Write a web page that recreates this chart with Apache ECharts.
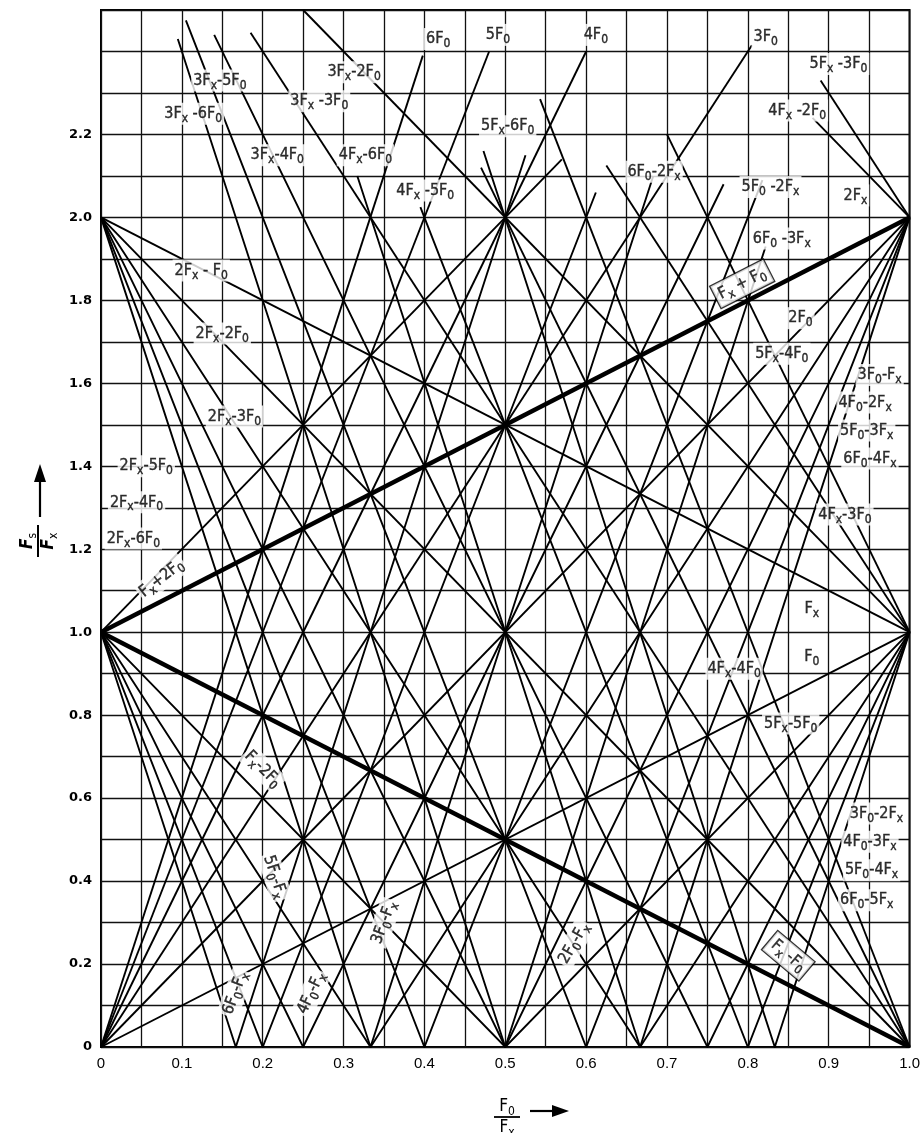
<!DOCTYPE html>
<html>
<head>
<meta charset="utf-8">
<title>Spurious response chart</title>
<script src="https://cdn.jsdelivr.net/npm/echarts@6/dist/echarts.min.js"></script>
<style>
html, body { margin: 0; padding: 0; background: #fff; }
#chart { width: 923px; height: 1133px; }
</style>
</head>
<body>
<div id="chart"></div>
<script>
// tick labels
var xTickValues = [0, 0.1, 0.2, 0.3, 0.4, 0.5, 0.6, 0.7, 0.8, 0.9, 1.0];
var xTickLabels = ['0', '0.1', '0.2', '0.3', '0.4', '0.5', '0.6', '0.7', '0.8', '0.9', '1.0'];
var yTickValues = [0, 0.2, 0.4, 0.6, 0.8, 1.0, 1.2, 1.4, 1.6, 1.8, 2.0, 2.2];
var yTickLabels = ['0', '0.2', '0.4', '0.6', '0.8', '1.0', '1.2', '1.4', '1.6', '1.8', '2.0', '2.2'];

// spur lines, vertices (x = F0/Fx, y = Fs/Fx)
var linesNF0 = [
  ['F0',  [[0, 0], [1, 1]]],
  ['2F0', [[0, 0], [1, 2]]],
  ['3F0', [[0, 0], [0.805, 2.415]]],
  ['4F0', [[0, 0], [0.6, 2.4]]],
  ['5F0', [[0, 0], [0.48, 2.4]]],
  ['6F0', [[0, 0], [0.398, 2.39]]]
];
var linesFx = [
  ['Fx-F0',  [[0, 1], [1, 0]]],
  ['Fx-2F0', [[0, 1], [0.5, 0], [1, 1]]],
  ['Fx-3F0', [[0, 1], [0.3333, 0], [1, 2]]],
  ['Fx-4F0', [[0, 1], [0.25, 0], [0.77, 2.08]]],
  ['Fx-5F0', [[0, 1], [0.2, 0], [0.612, 2.06]]],
  ['Fx-6F0', [[0, 1], [0.1667, 0], [0.525, 2.15]]],
  ['Fx+F0',  [[0, 1], [1, 2]]],
  ['Fx+2F0', [[0, 1], [0.57, 2.14]]]
];
var lines2Fx = [
  ['2Fx-F0',  [[0, 2], [1, 1]]],
  ['2Fx-2F0', [[0, 2], [1, 0]]],
  ['2Fx-3F0', [[0, 2], [0.6667, 0], [1, 1]]],
  ['2Fx-4F0', [[0, 2], [0.5, 0], [1, 2]]],
  ['2Fx-5F0', [[0, 2], [0.4, 0], [0.818, 2.09]]],
  ['2Fx-6F0', [[0, 2], [0.3333, 0], [0.683, 2.1]]]
];
var lines3Fx = [
  ['3Fx-2F0', [[0.25, 2.5], [1, 1]]],
  ['3Fx-3F0', [[0.185, 2.445], [1, 0]]],
  ['3Fx-4F0', [[0.14, 2.44], [0.75, 0], [1, 1]]],
  ['3Fx-5F0', [[0.105, 2.475], [0.6, 0], [1, 2]]],
  ['3Fx-6F0', [[0.095, 2.43], [0.5, 0], [0.822, 1.93]]]
];
var lines4Fx = [
  ['4Fx-2F0', [[0.88, 2.24], [1, 2]]],
  ['4Fx-3F0', [[0.625, 2.125], [1, 1]]],
  ['4Fx-4F0', [[0.47, 2.12], [1, 0]]],
  ['4Fx-5F0', [[0.395, 2.025], [0.8, 0], [1, 1]]],
  ['4Fx-6F0', [[0.317, 2.1], [0.6667, 0], [1, 2]]]
];
var lines5Fx = [
  ['5Fx-3F0', [[0.89, 2.33], [1, 2]]],
  ['5Fx-4F0', [[0.70, 2.2], [1, 1]]],
  ['5Fx-5F0', [[0.543, 2.285], [1, 0]]],
  ['5Fx-6F0', [[0.473, 2.16], [0.8333, 0], [1, 1]]]
];
var boldLines = ['Fx-F0', 'Fx+F0'];

// annotation text: [text, x, y, rotate, boxed]
var labelSpots = [
  ['6F_0', 0.417, 2.43, 0],
  ['5F_0', 0.491, 2.44, 0],
  ['4F_0', 0.612, 2.44, 0],
  ['3F_0', 0.822, 2.435, 0],
  ['5F_x -3F_0', 0.912, 2.37, 0],
  ['4F_x -2F_0', 0.861, 2.258, 0],
  ['3F_x-2F_0', 0.313, 2.35, 0],
  ['3F_x-5F_0', 0.147, 2.33, 0],
  ['3F_x -3F_0', 0.27, 2.28, 0],
  ['3F_x -6F_0', 0.114, 2.25, 0],
  ['5F_x-6F_0', 0.503, 2.22, 0],
  ['3F_x-4F_0', 0.218, 2.15, 0],
  ['4F_x-6F_0', 0.327, 2.15, 0],
  ['6F_0-2F_x', 0.684, 2.11, 0],
  ['4F_x -5F_0', 0.401, 2.065, 0],
  ['5F_0 -2F_x', 0.828, 2.073, 0],
  ['2F_x', 0.933, 2.053, 0],
  ['6F_0 -3F_x', 0.842, 1.949, 0],
  ['F_x + F_0', 0.793, 1.84, 27, true],
  ['2F_0', 0.865, 1.757, 0],
  ['5F_x-4F_0', 0.842, 1.671, 0],
  ['3F_0-F_x', 0.963, 1.62, 0],
  ['4F_0-2F_x', 0.945, 1.554, 0],
  ['5F_0-3F_x', 0.947, 1.486, 0],
  ['6F_0-4F_x', 0.951, 1.419, 0],
  ['4F_x-3F_0', 0.92, 1.284, 0],
  ['F_x', 0.879, 1.056, 0],
  ['F_0', 0.879, 0.94, 0],
  ['4F_x-4F_0', 0.783, 0.912, 0],
  ['5F_x-5F_0', 0.853, 0.78, 0],
  ['3F_0-2F_x', 0.959, 0.563, 0],
  ['4F_0-3F_x', 0.951, 0.495, 0],
  ['5F_0-4F_x', 0.953, 0.426, 0],
  ['6F_0-5F_x', 0.947, 0.354, 0],
  ['F_x -F_0', 0.85, 0.22, -40, true],
  ['2F_x - F_0', 0.124, 1.872, 0],
  ['2F_x-2F_0', 0.15, 1.72, 0],
  ['2F_x-3F_0', 0.165, 1.52, 0],
  ['2F_x-5F_0', 0.056, 1.40, 0],
  ['2F_x-4F_0', 0.044, 1.313, 0],
  ['2F_x-6F_0', 0.04, 1.226, 0],
  ['F_x+2F_0', 0.075, 1.13, 38],
  ['F_x-2F_0', 0.2, 0.67, -45],
  ['5F_0-F_x', 0.215, 0.41, -72],
  ['3F_0-F_x', 0.35, 0.30, 70],
  ['6F_0-F_x', 0.166, 0.13, 70],
  ['4F_0-F_x', 0.26, 0.13, 65],
  ['2F_0-F_x', 0.585, 0.25, 60]
];

var labelFont = "'DejaVu Sans Condensed', 'Liberation Sans Narrow', sans-serif";

function richText(s) {
  return s.replace(/F_([x0s])/g, 'F{sub|$1}');
}
function tickText(v, values, labels) {
  var r = Math.round(v * 100) / 100;
  for (var i = 0; i < values.length; i++) {
    if (Math.abs(values[i] - r) < 1e-6) return labels[i];
  }
  return '';
}

var allLines = [].concat(linesNF0, linesFx, lines2Fx, lines3Fx, lines4Fx, lines5Fx);

var lineData = allLines.map(function (l) {
  var item = { name: l[0], coords: l[1] };
  if (boldLines.indexOf(l[0]) >= 0) item.lineStyle = { width: 4.5 };
  return item;
});

// subscript style for series labels
var subRich = {
  sub: {
    fontSize: 12, fontFamily: labelFont, verticalAlign: 'bottom', color: '#000', lineHeight: 22,
    textBorderColor: '#000', textBorderWidth: 0.4
  }
};
// subscript style for graphic texts (axis titles)
var titleRich = {
  sub: { fontSize: 12, fontFamily: labelFont, verticalAlign: 'bottom', fill: '#000', lineHeight: 22 }
};

var labelData = labelSpots.map(function (s) {
  var boxed = !!s[4];
  return {
    value: [s[1], s[2]],
    label: {
      formatter: richText(s[0]),
      rotate: s[3],
      borderColor: boxed ? '#000' : 'transparent',
      borderWidth: boxed ? 1.3 : 0,
      padding: boxed ? [1, 4] : [0, 2]
    }
  };
});

option = {
  animation: false,
  backgroundColor: '#fff',
  grid: {
    left: 101,
    right: 10,
    top: 10,
    bottom: 86,
    show: true,
    borderColor: '#000',
    borderWidth: 2
  },
  xAxis: {
    type: 'value',
    min: 0,
    max: 1,
    interval: 0.05,
    axisLine: { show: false },
    axisTick: { show: false },
    splitLine: { show: true, lineStyle: { color: '#111', width: 1.3 } },
    axisLabel: {
      margin: 9,
      color: '#000',
      fontSize: 15,
      fontFamily: "'Liberation Sans Narrow', sans-serif",
      formatter: function (v) { return tickText(v, xTickValues, xTickLabels); }
    }
  },
  yAxis: {
    type: 'value',
    min: 0,
    max: 2.5,
    interval: 0.1,
    axisLine: { show: false },
    axisTick: { show: false },
    splitLine: { show: true, lineStyle: { color: '#111', width: 1.3 } },
    axisLabel: {
      margin: 9,
      color: '#000',
      fontSize: 13,
      fontWeight: 'bold',
      fontFamily: "'DejaVu Sans', sans-serif",
      formatter: function (v) { return tickText(v, yTickValues, yTickLabels); }
    }
  },
  series: [
    {
      type: 'lines',
      coordinateSystem: 'cartesian2d',
      polyline: true,
      silent: true,
      z: 3,
      lineStyle: { color: '#000', width: 1.9, opacity: 1 },
      data: lineData
    },
    {
      type: 'scatter',
      silent: true,
      z: 10,
      symbolSize: 1,
      itemStyle: { color: 'transparent' },
      label: {
        show: true,
        position: 'inside',
        color: '#000',
        fontSize: 16,
        fontFamily: labelFont,
        lineHeight: 22,
        textBorderColor: '#000',
        textBorderWidth: 0.4,
        backgroundColor: '#fff',
        rich: subRich
      },
      data: labelData
    }
  ],
  graphic: [
    // y axis title Fs / Fx with arrow
    {
      type: 'group',
      x: 38,
      y: 541,
      rotation: Math.PI / 2,
      children: [
        { type: 'text', x: 0, y: -10, style: { text: 'F{sub|s}', rich: titleRich, font: 'italic bold 17px ' + labelFont, fill: '#000', align: 'center', verticalAlign: 'middle' } },
        { type: 'line', shape: { x1: -16, y1: 0, x2: 16, y2: 0 }, style: { stroke: '#000', lineWidth: 2 } },
        { type: 'text', x: 0, y: 11, style: { text: 'F{sub|x}', rich: titleRich, font: 'italic bold 17px ' + labelFont, fill: '#000', align: 'center', verticalAlign: 'middle' } }
      ]
    },
    { type: 'line', shape: { x1: 40, y1: 517, x2: 40, y2: 478 }, style: { stroke: '#000', lineWidth: 2.2 } },
    { type: 'polygon', shape: { points: [[34, 482], [46, 482], [40, 464]] }, style: { fill: '#000' } },
    // x axis title F0 / Fx with arrow
    {
      type: 'group',
      x: 507,
      y: 1117,
      children: [
        { type: 'text', x: 0, y: -10, style: { text: 'F{sub|0}', rich: titleRich, font: '17px ' + labelFont, fill: '#000', align: 'center', verticalAlign: 'middle' } },
        { type: 'line', shape: { x1: -13, y1: 0, x2: 13, y2: 0 }, style: { stroke: '#000', lineWidth: 1.8 } },
        { type: 'text', x: 0, y: 11, style: { text: 'F{sub|x}', rich: titleRich, font: '17px ' + labelFont, fill: '#000', align: 'center', verticalAlign: 'middle' } }
      ]
    },
    { type: 'line', shape: { x1: 530, y1: 1111, x2: 556, y2: 1111 }, style: { stroke: '#000', lineWidth: 2.2 } },
    { type: 'polygon', shape: { points: [[552, 1105], [552, 1117], [569, 1111]] }, style: { fill: '#000' } }
  ]
};

var chart = echarts.init(document.getElementById('chart'));
chart.setOption(option);
</script>
</body>
</html>
